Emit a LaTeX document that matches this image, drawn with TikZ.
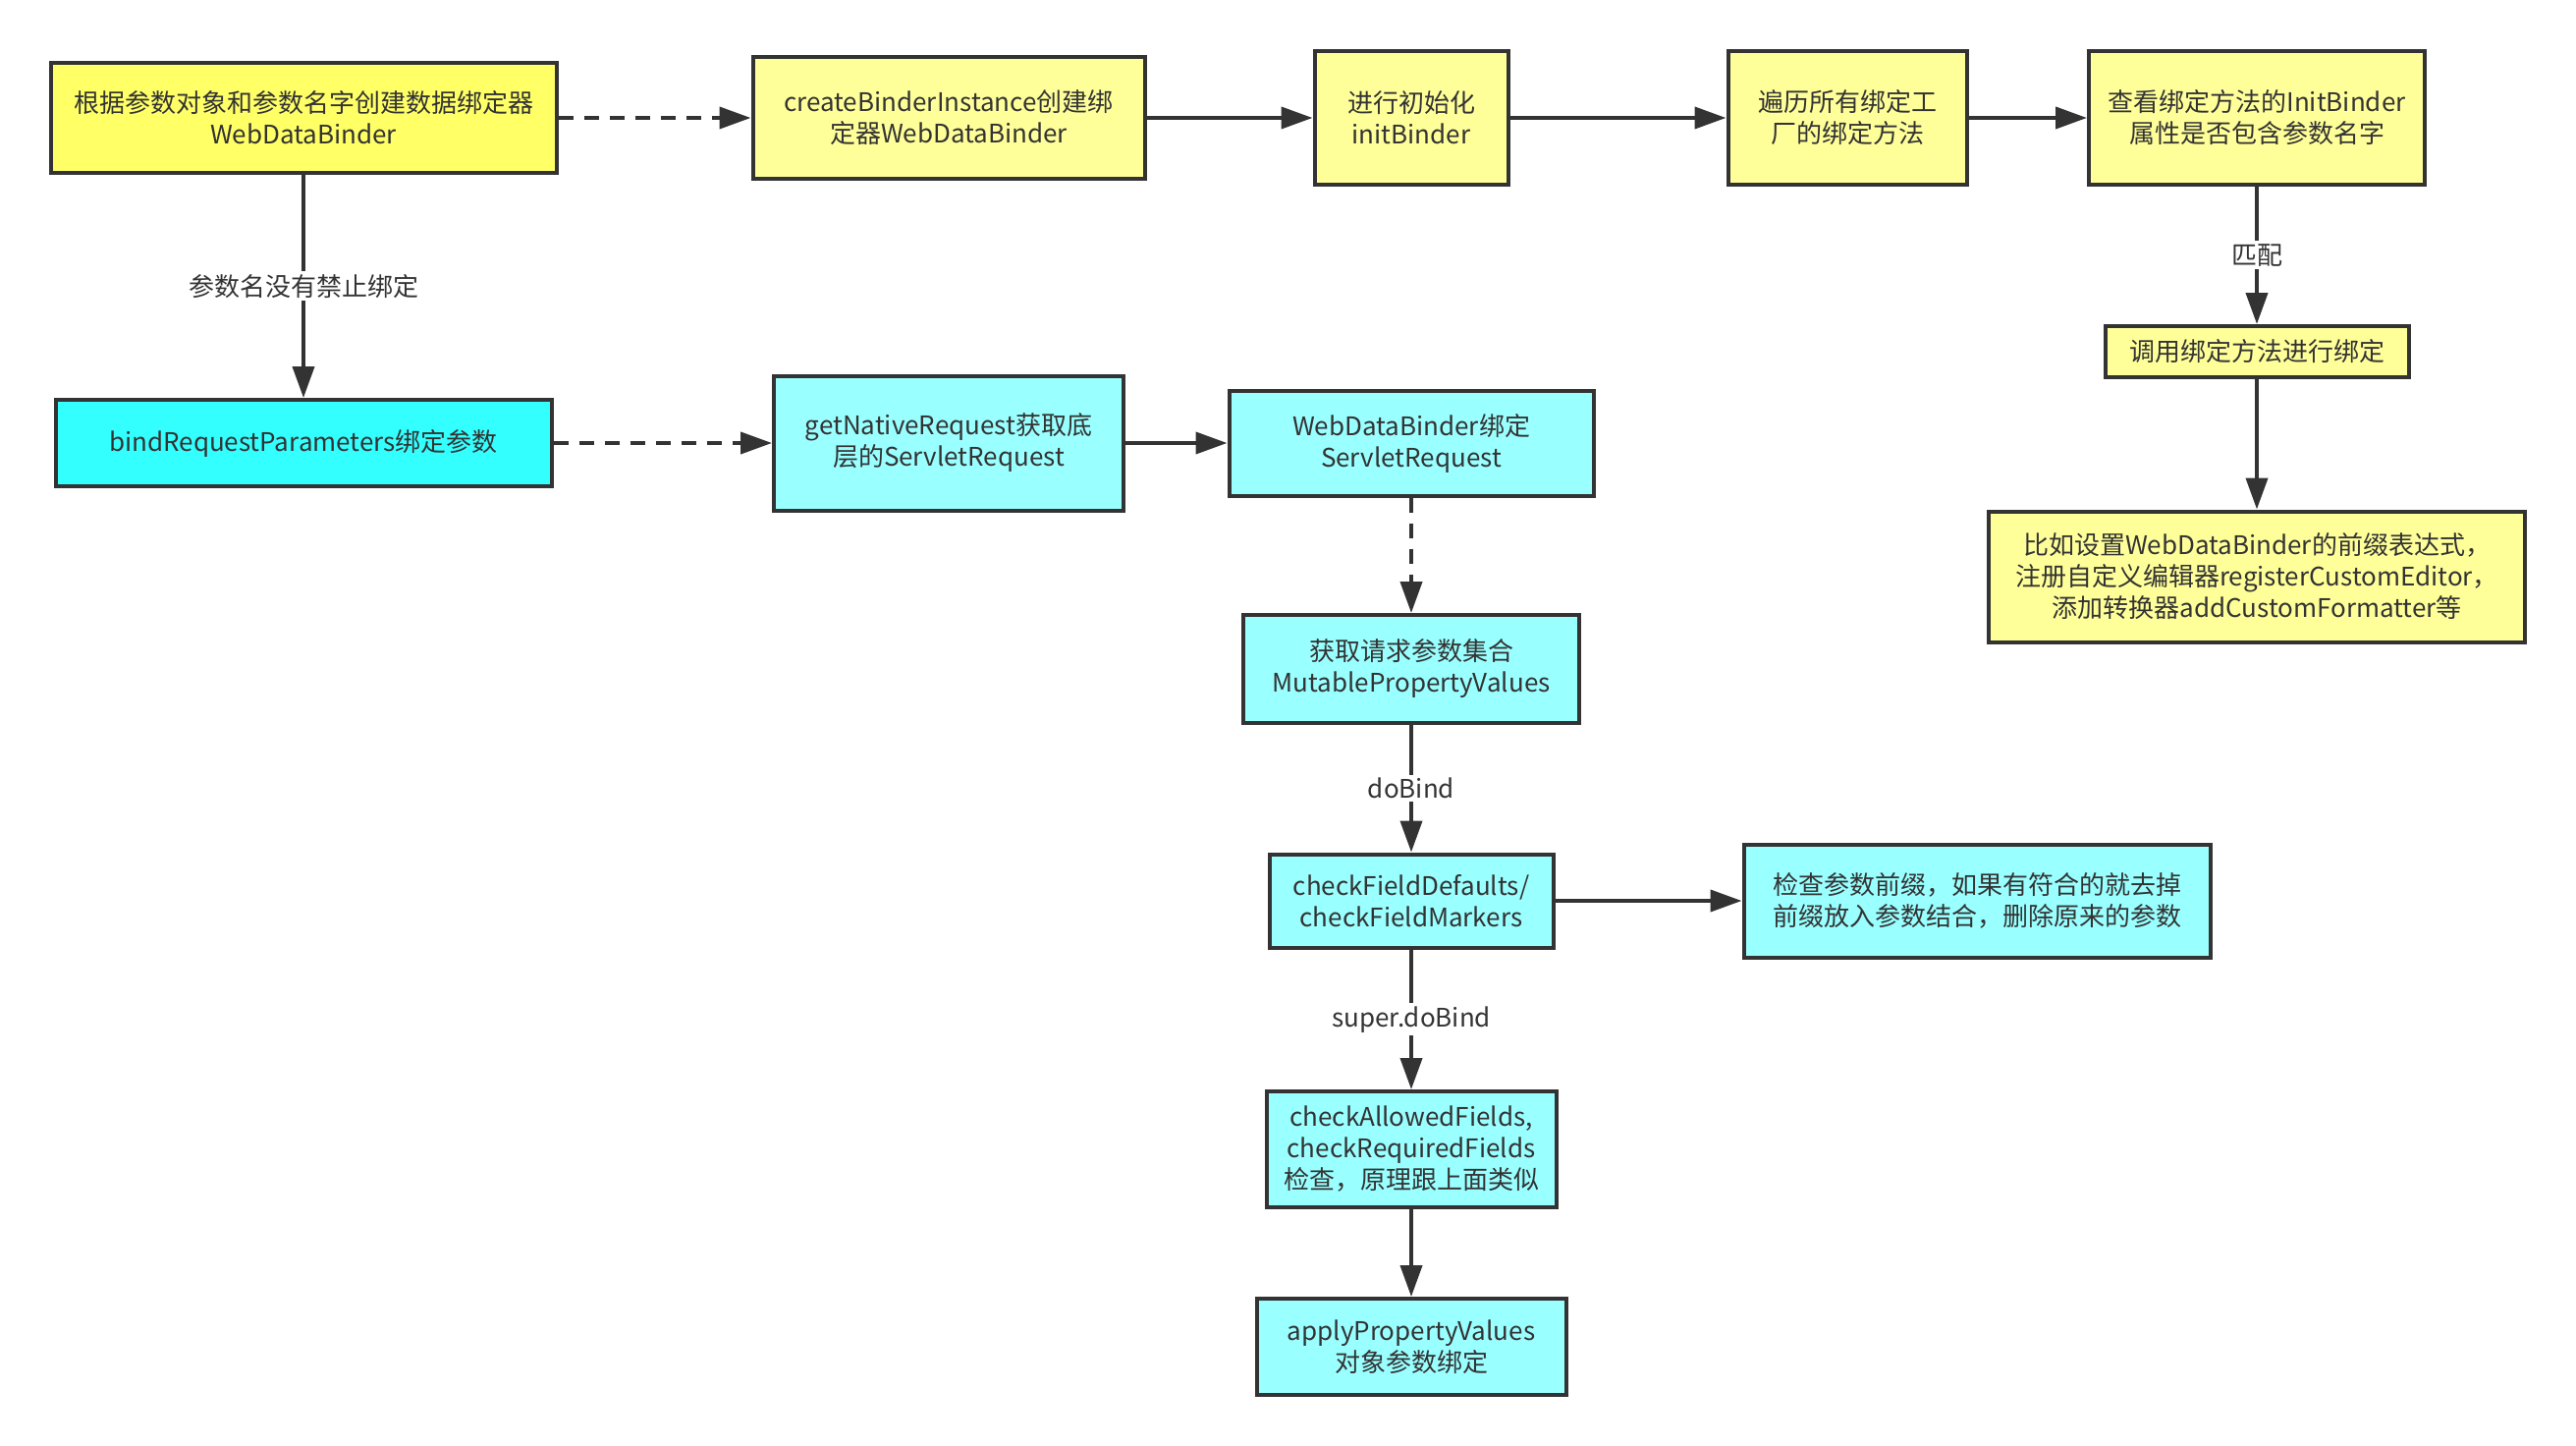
\documentclass[tikz,border=0pt]{standalone}
\usepackage{fontspec}
\setmainfont{Noto Sans CJK SC}
\usetikzlibrary{arrows.meta,positioning}
\usepackage{xcolor}
\definecolor{linegray}{HTML}{333333}
\definecolor{yellowhl}{HTML}{FFFF66}
\definecolor{yellowbox}{HTML}{FFFF99}
\definecolor{cyanhl}{HTML}{33FFFF}
\definecolor{cyanbox}{HTML}{99FFFF}

\begin{document}
\begin{tikzpicture}[x=1pt, y=-1pt,
  box/.style={draw=linegray, line width=4pt, align=center, inner sep=0pt, text=linegray, font=\fontsize{26}{32}\selectfont},
  ybox/.style={box, fill=yellowbox},
  cbox/.style={box, fill=cyanbox},
  flow/.style={draw=linegray, line width=4pt, -{Triangle[length=32pt, width=22pt]}},
  dflow/.style={flow, dash pattern=on 15pt off 11pt},
  lbl/.style={fill=white, text=linegray, font=\fontsize{26}{32}\selectfont, inner sep=3pt}]
  \useasboundingbox (0,0) rectangle (2623,1472);

  % Top row: creating the binder
  \node[box, fill=yellowhl, minimum width=515pt, minimum height=111pt] (create) at (309,120) {根据参数对象和参数名字创建数据绑定器\\WebDataBinder};
  \node[ybox, minimum width=399pt, minimum height=123pt] (instance) at (966,120) {createBinderInstance创建绑\\定器WebDataBinder};
  \node[ybox, minimum width=197pt, minimum height=135pt] (initb) at (1437,120) {进行初始化\\initBinder};
  \node[ybox, minimum width=243pt, minimum height=135pt] (loop) at (1881,120) {遍历所有绑定工\\厂的绑定方法};
  \node[ybox, minimum width=342pt, minimum height=135pt] (check) at (2298,120) {查看绑定方法的InitBinder\\属性是否包含参数名字};
  \node[ybox, minimum width=309pt, minimum height=52pt] (invoke) at (2298,358) {调用绑定方法进行绑定};
  \node[ybox, minimum width=546pt, minimum height=133pt] (example) at (2298,587) {比如设置WebDataBinder的前缀表达式，\\注册自定义编辑器registerCustomEditor，\\添加转换器addCustomFormatter等};

  % Second row and the doBind chain
  \node[box, fill=cyanhl, minimum width=505pt, minimum height=88pt] (bindreq) at (309,451) {bindRequestParameters绑定参数};
  \node[cbox, minimum width=356pt, minimum height=137pt] (native) at (966,451) {getNativeRequest获取底\\层的ServletRequest};
  \node[cbox, minimum width=371pt, minimum height=107pt] (wdb) at (1437,451) {WebDataBinder绑定\\ServletRequest};
  \node[cbox, minimum width=342pt, minimum height=110pt] (mpv) at (1437,681) {获取请求参数集合\\MutablePropertyValues};
  \node[cbox, minimum width=289pt, minimum height=95pt] (fieldchk) at (1437,917) {checkFieldDefaults/\\checkFieldMarkers};
  \node[cbox, minimum width=475pt, minimum height=115pt] (prefix) at (2013,917) {检查参数前缀，如果有符合的就去掉\\前缀放入参数结合，删除原来的参数};
  \node[cbox, minimum width=295pt, minimum height=118pt] (allowed) at (1437,1170) {checkAllowedFields,\\checkRequiredFields\\检查，原理跟上面类似};
  \node[cbox, minimum width=315pt, minimum height=98pt] (apply) at (1437,1371) {applyPropertyValues\\对象参数绑定};

  % Connectors
  \draw[dflow] (create) -- (instance);
  \draw[flow] (instance) -- (initb);
  \draw[flow] (initb) -- (loop);
  \draw[flow] (loop) -- (check);
  \draw[flow] (check) -- node[lbl] {匹配} (invoke);
  \draw[flow] (invoke) -- (example);
  \draw[flow] (create) -- node[lbl] {参数名没有禁止绑定} (bindreq);
  \draw[dflow] (bindreq) -- (native);
  \draw[flow] (native) -- (wdb);
  \draw[dflow] (wdb) -- (mpv);
  \draw[flow] (mpv) -- node[lbl] {doBind} (fieldchk);
  \draw[flow] (fieldchk) -- (prefix);
  \draw[flow] (fieldchk) -- node[lbl] {super.doBind} (allowed);
  \draw[flow] (allowed) -- (apply);
\end{tikzpicture}
\end{document}
